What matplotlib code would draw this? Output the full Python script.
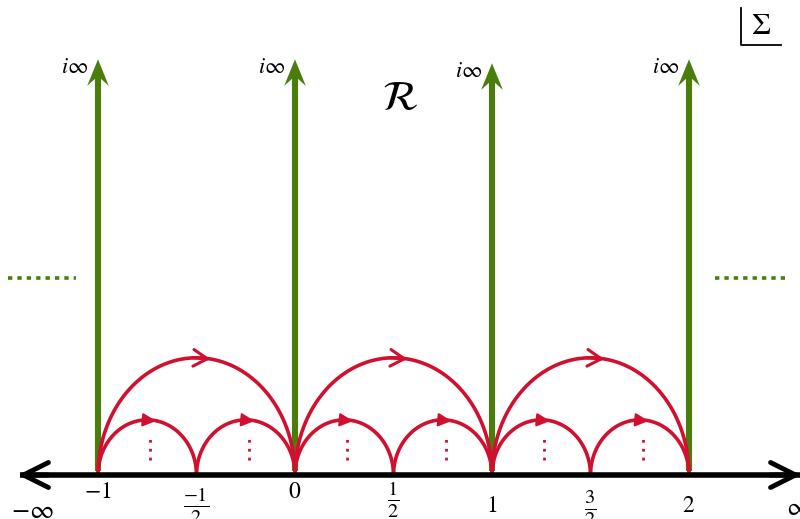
import numpy as np
import matplotlib
matplotlib.use("Agg")
import matplotlib.pyplot as plt

plt.rcParams['mathtext.fontset'] = 'stix'
plt.rcParams['font.family'] = ['STIXGeneral', 'DejaVu Serif']

GREEN = '#4a7d0c'
RED = '#d0102e'

# data
cusps = [-1, 0, 1, 2]
cusp_tip_heights = [2.11, 2.11, 2.09, 2.11]
big_arcs = [(-1, 0), (0, 1), (1, 2)]
small_arcs = [(-1, -0.5), (-0.5, 0), (0, 0.5), (0.5, 1), (1, 1.5), (1.5, 2)]
tick_vals = [-1, -0.5, 0, 0.5, 1, 1.5, 2]
tick_labels = [r'$-1$', r'$\frac{-1}{2}$', r'$0$', r'$\frac{1}{2}$', r'$1$', r'$\frac{3}{2}$', r'$2$']
tick_offsets = [0.09, 0.155, 0.09, 0.125, 0.16, 0.17, 0.16]
tick_sizes = [17, 21, 17, 21, 17, 21, 17]

PX = 197.0
x0px, y0px = 98.0, 475.0
W, H = 800, 519

fig = plt.figure(figsize=(8, 5.19), dpi=100)
ax = fig.add_axes([0, 0, 1, 1])
ax.set_xlim(-1 - x0px / PX, -1 + (W - x0px) / PX)
ax.set_ylim(-(H - y0px) / PX, y0px / PX)
ax.axis('off')

big_h = 0.595
small_h = 0.28

# green vertical arrows
hl, hw, notch = 0.135, 0.055, 0.085
for c, h in zip(cusps, cusp_tip_heights):
    ax.plot([c, c], [0.02, h - notch], color=GREEN, lw=4.4, solid_capstyle='butt')
    ax.fill([c, c - hw, c, c + hw], [h, h - hl, h - notch, h - hl], color=GREEN, lw=0)
    ax.text(c - 0.12, h - 0.045, r'$i\infty$', fontsize=16, ha='center', va='center')

# red arcs
t = np.linspace(0, np.pi, 300)
for a, b in big_arcs:
    cx, r = (a + b) / 2, (b - a) / 2
    ax.plot(cx + r * np.cos(t), big_h * np.sin(t), color=RED, lw=2.6, solid_capstyle='round')
    ax.annotate('', xy=(cx + 0.07, big_h - 0.006), xytext=(cx - 0.02, big_h),
                arrowprops=dict(arrowstyle='->,head_length=0.5,head_width=0.3',
                                color=RED, lw=2.2, shrinkA=0, shrinkB=0, mutation_scale=20))
for a, b in small_arcs:
    cx, r = (a + b) / 2, (b - a) / 2
    ax.plot(cx + r * np.cos(t), small_h * np.sin(t), color=RED, lw=2.6, solid_capstyle='round')
    ax.annotate('', xy=(cx + 0.045, small_h - 0.006), xytext=(cx - 0.02, small_h),
                arrowprops=dict(arrowstyle='-|>,head_length=0.4,head_width=0.2',
                                color=RED, lw=1.5, shrinkA=0, shrinkB=0, mutation_scale=20))
    ax.plot([cx + 0.015, cx + 0.015], [0.075, 0.2], color=RED, lw=2, ls=(0, (1, 2.2)))

# real axis
ax.plot([-1 - 78 / PX, -1 + (W - x0px) / PX], [0, 0], color='black', lw=4, solid_capstyle='butt')
ax.annotate('', xy=(-1 - 80 / PX, 0), xytext=(-1 - 50 / PX, 0), annotation_clip=False,
            arrowprops=dict(arrowstyle='->,head_length=0.9,head_width=0.45',
                            color='black', lw=3.5, shrinkA=0, shrinkB=0, mutation_scale=20))
ax.annotate('', xy=(-1 + (W + 1 - x0px) / PX, 0), xytext=(-1 + (W - 30 - x0px) / PX, 0),
            annotation_clip=False,
            arrowprops=dict(arrowstyle='->,head_length=0.9,head_width=0.45',
                            color='black', lw=3.5, shrinkA=0, shrinkB=0, mutation_scale=20))

# tick labels
for v, lab, off, fs in zip(tick_vals, tick_labels, tick_offsets, tick_sizes):
    ax.text(v, -off, lab, fontsize=fs, ha='center', va='center')
ax.text(-1 - 66 / PX, -0.19, r'$-\infty$', fontsize=19, ha='center', va='center')
ax.text(-1 + (W - 2 - x0px) / PX, -0.175, r'$\infty$', fontsize=19, ha='center', va='center')

# green dotted lines
yd = (y0px - 278) / PX
ax.plot([-1 - 90 / PX, -1 - 22 / PX], [yd, yd], color=GREEN, lw=2.6, ls=(0, (1.2, 1.4)))
ax.plot([-1 + (715 - x0px) / PX, -1 + (785 - x0px) / PX], [yd, yd], color=GREEN, lw=2.6, ls=(0, (1.2, 1.4)))

# script R
ax.text(-1 + (400 - x0px) / PX, (y0px - 100) / PX, r'$\mathcal{R}$', fontsize=30, ha='center', va='center')

# Sigma box
sx, sy = -1 + (741 - x0px) / PX, (y0px - 45) / PX
ax.plot([sx, sx, sx + 40 / PX], [(y0px - 8) / PX, sy, sy], color='black', lw=1.3)
ax.text(-1 + (761 - x0px) / PX, (y0px - 27) / PX, r'$\Sigma$', fontsize=22, ha='center', va='center')

fig.savefig('out.png', dpi=100)
